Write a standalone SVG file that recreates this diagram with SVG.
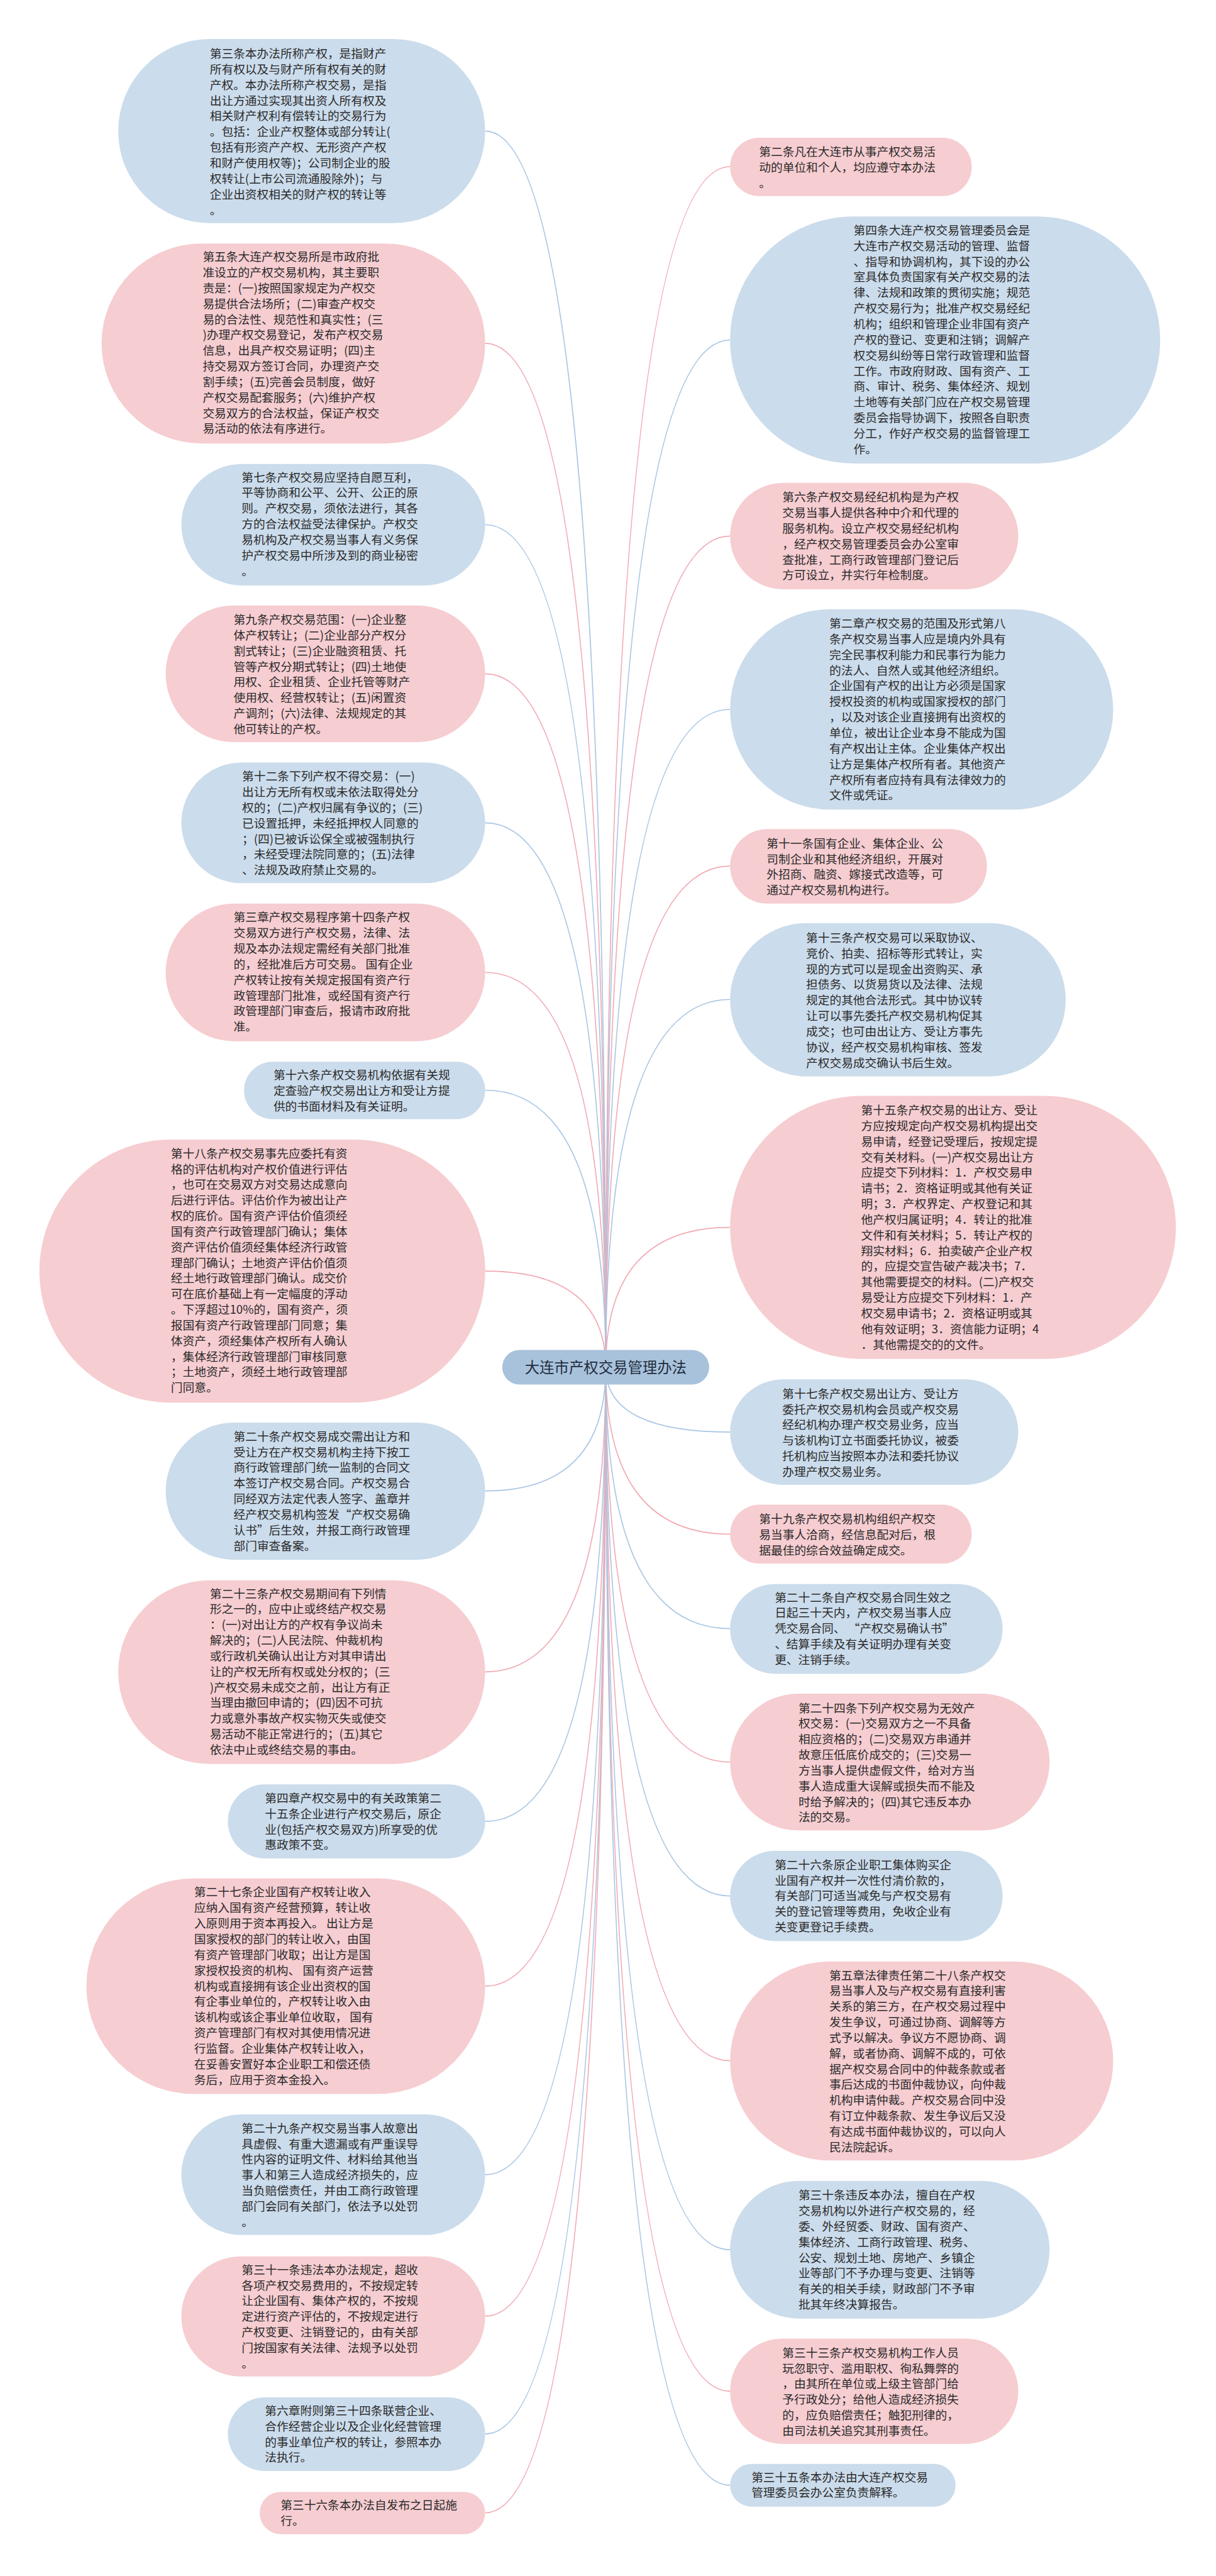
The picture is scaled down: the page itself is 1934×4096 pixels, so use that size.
<svg xmlns="http://www.w3.org/2000/svg" width="1934" height="4096" viewBox="0 0 1934 4096">
<style>
.t{font-family:"Noto Sans CJK SC","Noto Sans",sans-serif;font-size:24.8px;fill:#2b2b2b}
.pk{fill:#f6cdd1}
.bl{fill:#cbdcec}
.cp{fill:none;stroke:#f0aab3;stroke-width:2.2}
.cb{fill:none;stroke:#a8c6e3;stroke-width:2.2}
.ct{font-family:"Noto Sans CJK SC","Noto Sans",sans-serif;font-size:31px;fill:#1f2d3d}
</style>
<rect width="1934" height="4096" fill="#ffffff"/>
<g transform="scale(0.755)">
<g id="connectors">
<path class="cb" d="M1276 2880 Q1276 276 1022 276"/>
<path class="cp" d="M1276 2880 Q1276 723 1022 723"/>
<path class="cb" d="M1276 2880 Q1276 1105 1022 1105"/>
<path class="cp" d="M1276 2880 Q1276 1419 1022 1419"/>
<path class="cb" d="M1276 2880 Q1276 1733 1022 1733"/>
<path class="cp" d="M1276 2880 Q1276 2048 1022 2048"/>
<path class="cb" d="M1276 2880 Q1276 2296 1022 2296"/>
<path class="cp" d="M1276 2880 Q1276 2677 1022 2677"/>
<path class="cb" d="M1276 2880 Q1276 3140 1022 3140"/>
<path class="cp" d="M1276 2880 Q1276 3521 1022 3521"/>
<path class="cb" d="M1276 2880 Q1276 3836 1022 3836"/>
<path class="cp" d="M1276 2880 Q1276 4183 1022 4183"/>
<path class="cb" d="M1276 2880 Q1276 4580 1022 4580"/>
<path class="cp" d="M1276 2880 Q1276 4878 1022 4878"/>
<path class="cb" d="M1276 2880 Q1276 5126 1022 5126"/>
<path class="cp" d="M1276 2880 Q1276 5292 1022 5292"/>
<path class="cp" d="M1276 2880 Q1276 351 1538 351"/>
<path class="cb" d="M1276 2880 Q1276 716 1538 716"/>
<path class="cp" d="M1276 2880 Q1276 1129 1538 1129"/>
<path class="cb" d="M1276 2880 Q1276 1494 1538 1494"/>
<path class="cp" d="M1276 2880 Q1276 1824 1538 1824"/>
<path class="cb" d="M1276 2880 Q1276 2105 1538 2105"/>
<path class="cp" d="M1276 2880 Q1276 2585 1538 2585"/>
<path class="cb" d="M1276 2880 Q1276 3016 1538 3016"/>
<path class="cp" d="M1276 2880 Q1276 3231 1538 3231"/>
<path class="cb" d="M1276 2880 Q1276 3430 1538 3430"/>
<path class="cp" d="M1276 2880 Q1276 3711 1538 3711"/>
<path class="cb" d="M1276 2880 Q1276 3993 1538 3993"/>
<path class="cp" d="M1276 2880 Q1276 4340 1538 4340"/>
<path class="cb" d="M1276 2880 Q1276 4738 1538 4738"/>
<path class="cp" d="M1276 2880 Q1276 5036 1538 5036"/>
<path class="cb" d="M1276 2880 Q1276 5234 1538 5234"/>
</g>

<g id="center">
<rect x="1058" y="2843" width="436" height="73" rx="36.5" fill="#a9c2dc"/>
<text class="ct" x="1276" y="2891" text-anchor="middle">大连市产权交易管理办法</text>
</g>

<g id="n3"><rect class="bl" x="249" y="82" width="773" height="388" rx="194"/>
<text class="t"><tspan x="442" y="122">第三条本办法所称产权，是指财产</tspan><tspan x="442" y="154.9">所有权以及与财产所有权有关的财</tspan><tspan x="442" y="187.8">产权。本办法所称产权交易，是指</tspan><tspan x="442" y="220.7">出让方通过实现其出资人所有权及</tspan><tspan x="442" y="253.6">相关财产权利有偿转让的交易行为</tspan><tspan x="442" y="286.5">。包括：企业产权整体或部分转让(</tspan><tspan x="442" y="319.4">包括有形资产产权、无形资产产权</tspan><tspan x="442" y="352.3">和财产使用权等)；公司制企业的股</tspan><tspan x="442" y="385.2">权转让(上市公司流通股除外)；与</tspan><tspan x="442" y="418.1">企业出资权相关的财产权的转让等</tspan><tspan x="442" y="451">。</tspan></text></g>

<g id="n5"><rect class="pk" x="214" y="513" width="808" height="421" rx="210.5"/>
<text class="t"><tspan x="427" y="550">第五条大连产权交易所是市政府批</tspan><tspan x="427" y="582.9">准设立的产权交易机构，其主要职</tspan><tspan x="427" y="615.8">责是：(一)按照国家规定为产权交</tspan><tspan x="427" y="648.7">易提供合法场所；(二)审查产权交</tspan><tspan x="427" y="681.6">易的合法性、规范性和真实性；(三</tspan><tspan x="427" y="714.5">)办理产权交易登记，发布产权交易</tspan><tspan x="427" y="747.4">信息，出具产权交易证明；(四)主</tspan><tspan x="427" y="780.3">持交易双方签订合同，办理资产交</tspan><tspan x="427" y="813.2">割手续；(五)完善会员制度，做好</tspan><tspan x="427" y="846.1">产权交易配套服务；(六)维护产权</tspan><tspan x="427" y="879">交易双方的合法权益，保证产权交</tspan><tspan x="427" y="911.9">易活动的依法有序进行。</tspan></text></g>

<g id="n7"><rect class="bl" x="382" y="977" width="640" height="256" rx="128"/>
<text class="t"><tspan x="509" y="1014">第七条产权交易应坚持自愿互利，</tspan><tspan x="509" y="1046.9">平等协商和公平、公开、公正的原</tspan><tspan x="509" y="1079.8">则。产权交易，须依法进行，其各</tspan><tspan x="509" y="1112.7">方的合法权益受法律保护。产权交</tspan><tspan x="509" y="1145.6">易机构及产权交易当事人有义务保</tspan><tspan x="509" y="1178.5">护产权交易中所涉及到的商业秘密</tspan><tspan x="509" y="1211.4">。</tspan></text></g>

<g id="n9"><rect class="pk" x="349" y="1275" width="673" height="288" rx="144"/>
<text class="t"><tspan x="492" y="1314">第九条产权交易范围：(一)企业整</tspan><tspan x="492" y="1346.9">体产权转让；(二)企业部分产权分</tspan><tspan x="492" y="1379.8">割式转让；(三)企业融资租赁、托</tspan><tspan x="492" y="1412.7">管等产权分期式转让；(四)土地使</tspan><tspan x="492" y="1445.6">用权、企业租赁、企业托管等财产</tspan><tspan x="492" y="1478.5">使用权、经营权转让；(五)闲置资</tspan><tspan x="492" y="1511.4">产调剂；(六)法律、法规规定的其</tspan><tspan x="492" y="1544.3">他可转让的产权。</tspan></text></g>

<g id="n12"><rect class="bl" x="382" y="1606" width="640" height="254" rx="127"/>
<text class="t"><tspan x="510" y="1644">第十二条下列产权不得交易：(一)</tspan><tspan x="510" y="1676.9">出让方无所有权或未依法取得处分</tspan><tspan x="510" y="1709.8">权的；(二)产权归属有争议的；(三)</tspan><tspan x="510" y="1742.7">已设置抵押，未经抵押权人同意的</tspan><tspan x="510" y="1775.6">；(四)已被诉讼保全或被强制执行</tspan><tspan x="510" y="1808.5">，未经受理法院同意的；(五)法律</tspan><tspan x="510" y="1841.4">、法规及政府禁止交易的。</tspan></text></g>

<g id="n14"><rect class="pk" x="349" y="1903" width="673" height="290" rx="145"/>
<text class="t"><tspan x="492" y="1941">第三章产权交易程序第十四条产权</tspan><tspan x="492" y="1973.9">交易双方进行产权交易，法律、法</tspan><tspan x="492" y="2006.8">规及本办法规定需经有关部门批准</tspan><tspan x="492" y="2039.7">的，经批准后方可交易。 国有企业</tspan><tspan x="492" y="2072.6">产权转让按有关规定报国有资产行</tspan><tspan x="492" y="2105.5">政管理部门批准，或经国有资产行</tspan><tspan x="492" y="2138.4">政管理部门审查后，报请市政府批</tspan><tspan x="492" y="2171.3">准。</tspan></text></g>

<g id="n16"><rect class="bl" x="514" y="2236" width="508" height="121" rx="60.5"/>
<text class="t"><tspan x="576" y="2273">第十六条产权交易机构依据有关规</tspan><tspan x="576" y="2305.9">定查验产权交易出让方和受让方提</tspan><tspan x="576" y="2338.8">供的书面材料及有关证明。</tspan></text></g>

<g id="n18"><rect class="pk" x="83" y="2400" width="939" height="554" rx="277"/>
<text class="t"><tspan x="360" y="2438">第十八条产权交易事先应委托有资</tspan><tspan x="360" y="2470.9">格的评估机构对产权价值进行评估</tspan><tspan x="360" y="2503.8">，也可在交易双方对交易达成意向</tspan><tspan x="360" y="2536.7">后进行评估。评估价作为被出让产</tspan><tspan x="360" y="2569.6">权的底价。国有资产评估价值须经</tspan><tspan x="360" y="2602.5">国有资产行政管理部门确认；集体</tspan><tspan x="360" y="2635.4">资产评估价值须经集体经济行政管</tspan><tspan x="360" y="2668.3">理部门确认；土地资产评估价值须</tspan><tspan x="360" y="2701.2">经土地行政管理部门确认。成交价</tspan><tspan x="360" y="2734.1">可在底价基础上有一定幅度的浮动</tspan><tspan x="360" y="2767">。下浮超过10%的，国有资产，须</tspan><tspan x="360" y="2799.9">报国有资产行政管理部门同意；集</tspan><tspan x="360" y="2832.8">体资产，须经集体产权所有人确认</tspan><tspan x="360" y="2865.7">，集体经济行政管理部门审核同意</tspan><tspan x="360" y="2898.6">；土地资产，须经土地行政管理部</tspan><tspan x="360" y="2931.5">门同意。</tspan></text></g>

<g id="n20"><rect class="bl" x="349" y="2996" width="673" height="289" rx="144.5"/>
<text class="t"><tspan x="492" y="3034">第二十条产权交易成交需出让方和</tspan><tspan x="492" y="3066.9">受让方在产权交易机构主持下按工</tspan><tspan x="492" y="3099.8">商行政管理部门统一监制的合同文</tspan><tspan x="492" y="3132.7">本签订产权交易合同。产权交易合</tspan><tspan x="492" y="3165.6">同经双方法定代表人签字、盖章并</tspan><tspan x="492" y="3198.5">经产权交易机构签发“产权交易确</tspan><tspan x="492" y="3231.4">认书”后生效，并报工商行政管理</tspan><tspan x="492" y="3264.3">部门审查备案。</tspan></text></g>

<g id="n23"><rect class="pk" x="249" y="3328" width="773" height="387" rx="193.5"/>
<text class="t"><tspan x="442" y="3365">第二十三条产权交易期间有下列情</tspan><tspan x="442" y="3397.9">形之一的，应中止或终结产权交易</tspan><tspan x="442" y="3430.8">：(一)对出让方的产权有争议尚未</tspan><tspan x="442" y="3463.7">解决的；(二)人民法院、仲裁机构</tspan><tspan x="442" y="3496.6">或行政机关确认出让方对其申请出</tspan><tspan x="442" y="3529.5">让的产权无所有权或处分权的；(三</tspan><tspan x="442" y="3562.4">)产权交易未成交之前，出让方有正</tspan><tspan x="442" y="3595.3">当理由撤回申请的；(四)因不可抗</tspan><tspan x="442" y="3628.2">力或意外事故产权实物灭失或使交</tspan><tspan x="442" y="3661.1">易活动不能正常进行的；(五)其它</tspan><tspan x="442" y="3694">依法中止或终结交易的事由。</tspan></text></g>

<g id="n25"><rect class="bl" x="480" y="3758" width="542" height="156" rx="78"/>
<text class="t"><tspan x="558" y="3796">第四章产权交易中的有关政策第二</tspan><tspan x="558" y="3828.9">十五条企业进行产权交易后，原企</tspan><tspan x="558" y="3861.8">业(包括产权交易双方)所享受的优</tspan><tspan x="558" y="3894.7">惠政策不变。</tspan></text></g>

<g id="n27"><rect class="pk" x="182" y="3956" width="840" height="454" rx="227"/>
<text class="t"><tspan x="409" y="3994">第二十七条企业国有产权转让收入</tspan><tspan x="409" y="4026.9">应纳入国有资产经营预算，转让收</tspan><tspan x="409" y="4059.8">入原则用于资本再投入。 出让方是</tspan><tspan x="409" y="4092.7">国家授权的部门的转让收入，由国</tspan><tspan x="409" y="4125.6">有资产管理部门收取；出让方是国</tspan><tspan x="409" y="4158.5">家授权投资的机构、 国有资产运营</tspan><tspan x="409" y="4191.4">机构或直接拥有该企业出资权的国</tspan><tspan x="409" y="4224.3">有企事业单位的，产权转让收入由</tspan><tspan x="409" y="4257.2">该机构或该企事业单位收取， 国有</tspan><tspan x="409" y="4290.1">资产管理部门有权对其使用情况进</tspan><tspan x="409" y="4323">行监督。企业集体产权转让收入，</tspan><tspan x="409" y="4355.9">在妥善安置好本企业职工和偿还债</tspan><tspan x="409" y="4388.8">务后，应用于资本金投入。</tspan></text></g>

<g id="n29"><rect class="bl" x="382" y="4453" width="640" height="254" rx="127"/>
<text class="t"><tspan x="509" y="4491">第二十九条产权交易当事人故意出</tspan><tspan x="509" y="4523.9">具虚假、有重大遗漏或有严重误导</tspan><tspan x="509" y="4556.8">性内容的证明文件、材料给其他当</tspan><tspan x="509" y="4589.7">事人和第三人造成经济损失的，应</tspan><tspan x="509" y="4622.6">当负赔偿责任，并由工商行政管理</tspan><tspan x="509" y="4655.5">部门会同有关部门，依法予以处罚</tspan><tspan x="509" y="4688.4">。</tspan></text></g>

<g id="n31"><rect class="pk" x="382" y="4752" width="640" height="253" rx="126.5"/>
<text class="t"><tspan x="509" y="4789">第三十一条违法本办法规定，超收</tspan><tspan x="509" y="4821.9">各项产权交易费用的，不按规定转</tspan><tspan x="509" y="4854.8">让企业国有、集体产权的，不按规</tspan><tspan x="509" y="4887.7">定进行资产评估的，不按规定进行</tspan><tspan x="509" y="4920.6">产权变更、注销登记的，由有关部</tspan><tspan x="509" y="4953.5">门按国家有关法律、法规予以处罚</tspan><tspan x="509" y="4986.4">。</tspan></text></g>

<g id="n34"><rect class="bl" x="480" y="5049" width="542" height="155" rx="77.5"/>
<text class="t"><tspan x="558" y="5086">第六章附则第三十四条联营企业、</tspan><tspan x="558" y="5118.9">合作经营企业以及企业化经营管理</tspan><tspan x="558" y="5151.8">的事业单位产权的转让，参照本办</tspan><tspan x="558" y="5184.7">法执行。</tspan></text></g>

<g id="n36"><rect class="pk" x="547" y="5248" width="475" height="89" rx="44.5"/>
<text class="t"><tspan x="591" y="5285">第三十六条本办法自发布之日起施</tspan><tspan x="591" y="5317.9">行。</tspan></text></g>

<g id="n2"><rect class="pk" x="1538" y="290" width="509" height="123" rx="61.5"/>
<text class="t"><tspan x="1599" y="329">第二条凡在大连市从事产权交易活</tspan><tspan x="1599" y="361.9">动的单位和个人，均应遵守本办法</tspan><tspan x="1599" y="394.8">。</tspan></text></g>

<g id="n4"><rect class="bl" x="1538" y="456" width="906" height="520" rx="260"/>
<text class="t"><tspan x="1798" y="494">第四条大连产权交易管理委员会是</tspan><tspan x="1798" y="526.9">大连市产权交易活动的管理、监督</tspan><tspan x="1798" y="559.8">、指导和协调机构，其下设的办公</tspan><tspan x="1798" y="592.7">室具体负责国家有关产权交易的法</tspan><tspan x="1798" y="625.6">律、法规和政策的贯彻实施；规范</tspan><tspan x="1798" y="658.5">产权交易行为；批准产权交易经纪</tspan><tspan x="1798" y="691.4">机构；组织和管理企业非国有资产</tspan><tspan x="1798" y="724.3">产权的登记、变更和注销；调解产</tspan><tspan x="1798" y="757.2">权交易纠纷等日常行政管理和监督</tspan><tspan x="1798" y="790.1">工作。市政府财政、国有资产、工</tspan><tspan x="1798" y="823">商、审计、税务、集体经济、规划</tspan><tspan x="1798" y="855.9">土地等有关部门应在产权交易管理</tspan><tspan x="1798" y="888.8">委员会指导协调下，按照各自职责</tspan><tspan x="1798" y="921.7">分工，作好产权交易的监督管理工</tspan><tspan x="1798" y="954.6">作。</tspan></text></g>

<g id="n6"><rect class="pk" x="1538" y="1017" width="607" height="224" rx="112"/>
<text class="t"><tspan x="1648" y="1056">第六条产权交易经纪机构是为产权</tspan><tspan x="1648" y="1088.9">交易当事人提供各种中介和代理的</tspan><tspan x="1648" y="1121.8">服务机构。设立产权交易经纪机构</tspan><tspan x="1648" y="1154.7">，经产权交易管理委员会办公室审</tspan><tspan x="1648" y="1187.6">查批准，工商行政管理部门登记后</tspan><tspan x="1648" y="1220.5">方可设立，并实行年检制度。</tspan></text></g>

<g id="n8"><rect class="bl" x="1538" y="1283" width="807" height="422" rx="211"/>
<text class="t"><tspan x="1747" y="1322">第二章产权交易的范围及形式第八</tspan><tspan x="1747" y="1354.9">条产权交易当事人应是境内外具有</tspan><tspan x="1747" y="1387.8">完全民事权利能力和民事行为能力</tspan><tspan x="1747" y="1420.7">的法人、自然人或其他经济组织。</tspan><tspan x="1747" y="1453.6">企业国有产权的出让方必须是国家</tspan><tspan x="1747" y="1486.5">授权投资的机构或国家授权的部门</tspan><tspan x="1747" y="1519.4">，以及对该企业直接拥有出资权的</tspan><tspan x="1747" y="1552.3">单位，被出让企业本身不能成为国</tspan><tspan x="1747" y="1585.2">有产权出让主体。企业集体产权出</tspan><tspan x="1747" y="1618.1">让方是集体产权所有者。其他资产</tspan><tspan x="1747" y="1651">产权所有者应持有具有法律效力的</tspan><tspan x="1747" y="1683.9">文件或凭证。</tspan></text></g>

<g id="n11"><rect class="pk" x="1538" y="1746" width="541" height="157" rx="78.5"/>
<text class="t"><tspan x="1615" y="1785">第十一条国有企业、集体企业、公</tspan><tspan x="1615" y="1817.9">司制企业和其他经济组织，开展对</tspan><tspan x="1615" y="1850.8">外招商、融资、嫁接式改造等，可</tspan><tspan x="1615" y="1883.7">通过产权交易机构进行。</tspan></text></g>

<g id="n13"><rect class="bl" x="1538" y="1944" width="707" height="323" rx="161.5"/>
<text class="t"><tspan x="1698" y="1984">第十三条产权交易可以采取协议、</tspan><tspan x="1698" y="2016.9">竞价、拍卖、招标等形式转让，实</tspan><tspan x="1698" y="2049.8">现的方式可以是现金出资购买、承</tspan><tspan x="1698" y="2082.7">担债务、以货易货以及法律、法规</tspan><tspan x="1698" y="2115.6">规定的其他合法形式。其中协议转</tspan><tspan x="1698" y="2148.5">让可以事先委托产权交易机构促其</tspan><tspan x="1698" y="2181.4">成交；也可由出让方、受让方事先</tspan><tspan x="1698" y="2214.3">协议，经产权交易机构审核、签发</tspan><tspan x="1698" y="2247.2">产权交易成交确认书后生效。</tspan></text></g>

<g id="n15"><rect class="pk" x="1538" y="2308" width="939" height="554" rx="277"/>
<text class="t"><tspan x="1814" y="2347">第十五条产权交易的出让方、受让</tspan><tspan x="1814" y="2379.9">方应按规定向产权交易机构提出交</tspan><tspan x="1814" y="2412.8">易申请，经登记受理后，按规定提</tspan><tspan x="1814" y="2445.7">交有关材料。(一)产权交易出让方</tspan><tspan x="1814" y="2478.6">应提交下列材料：1．产权交易申</tspan><tspan x="1814" y="2511.5">请书；2．资格证明或其他有关证</tspan><tspan x="1814" y="2544.4">明；3．产权界定、产权登记和其</tspan><tspan x="1814" y="2577.3">他产权归属证明；4．转让的批准</tspan><tspan x="1814" y="2610.2">文件和有关材料；5．转让产权的</tspan><tspan x="1814" y="2643.1">翔实材料；6．拍卖破产企业产权</tspan><tspan x="1814" y="2676">的，应提交宣告破产裁决书；7．</tspan><tspan x="1814" y="2708.9">其他需要提交的材料。(二)产权交</tspan><tspan x="1814" y="2741.8">易受让方应提交下列材料：1．产</tspan><tspan x="1814" y="2774.7">权交易申请书；2．资格证明或其</tspan><tspan x="1814" y="2807.6">他有效证明；3．资信能力证明；4</tspan><tspan x="1814" y="2840.5">．其他需提交的的文件。</tspan></text></g>

<g id="n17"><rect class="bl" x="1538" y="2905" width="607" height="222" rx="111"/>
<text class="t"><tspan x="1648" y="2944">第十七条产权交易出让方、受让方</tspan><tspan x="1648" y="2976.9">委托产权交易机构会员或产权交易</tspan><tspan x="1648" y="3009.8">经纪机构办理产权交易业务，应当</tspan><tspan x="1648" y="3042.7">与该机构订立书面委托协议，被委</tspan><tspan x="1648" y="3075.6">托机构应当按照本办法和委托协议</tspan><tspan x="1648" y="3108.5">办理产权交易业务。</tspan></text></g>

<g id="n19"><rect class="pk" x="1538" y="3169" width="509" height="124" rx="62"/>
<text class="t"><tspan x="1599" y="3208">第十九条产权交易机构组织产权交</tspan><tspan x="1599" y="3240.9">易当事人洽商，经信息配对后，根</tspan><tspan x="1599" y="3273.8">据最佳的综合效益确定成交。</tspan></text></g>

<g id="n22"><rect class="bl" x="1538" y="3336" width="574" height="189" rx="94.5"/>
<text class="t"><tspan x="1632" y="3373">第二十二条自产权交易合同生效之</tspan><tspan x="1632" y="3405.9">日起三十天内，产权交易当事人应</tspan><tspan x="1632" y="3438.8">凭交易合同、 “产权交易确认书”</tspan><tspan x="1632" y="3471.7">、结算手续及有关证明办理有关变</tspan><tspan x="1632" y="3504.6">更、注销手续。</tspan></text></g>

<g id="n24"><rect class="pk" x="1538" y="3567" width="673" height="288" rx="144"/>
<text class="t"><tspan x="1682" y="3606">第二十四条下列产权交易为无效产</tspan><tspan x="1682" y="3638.9">权交易：(一)交易双方之一不具备</tspan><tspan x="1682" y="3671.8">相应资格的；(二)交易双方串通并</tspan><tspan x="1682" y="3704.7">故意压低底价成交的；(三)交易一</tspan><tspan x="1682" y="3737.6">方当事人提供虚假文件，给对方当</tspan><tspan x="1682" y="3770.5">事人造成重大误解或损失而不能及</tspan><tspan x="1682" y="3803.4">时给予解决的；(四)其它违反本办</tspan><tspan x="1682" y="3836.3">法的交易。</tspan></text></g>

<g id="n26"><rect class="bl" x="1538" y="3898" width="574" height="190" rx="95"/>
<text class="t"><tspan x="1632" y="3936">第二十六条原企业职工集体购买企</tspan><tspan x="1632" y="3968.9">业国有产权并一次性付清价款的，</tspan><tspan x="1632" y="4001.8">有关部门可适当减免与产权交易有</tspan><tspan x="1632" y="4034.7">关的登记管理等费用，免收企业有</tspan><tspan x="1632" y="4067.6">关变更登记手续费。</tspan></text></g>

<g id="n28"><rect class="pk" x="1538" y="4131" width="807" height="419" rx="209.5"/>
<text class="t"><tspan x="1747" y="4169">第五章法律责任第二十八条产权交</tspan><tspan x="1747" y="4201.9">易当事人及与产权交易有直接利害</tspan><tspan x="1747" y="4234.8">关系的第三方，在产权交易过程中</tspan><tspan x="1747" y="4267.7">发生争议，可通过协商、调解等方</tspan><tspan x="1747" y="4300.6">式予以解决。争议方不愿协商、调</tspan><tspan x="1747" y="4333.5">解，或者协商、调解不成的，可依</tspan><tspan x="1747" y="4366.4">据产权交易合同中的仲裁条款或者</tspan><tspan x="1747" y="4399.3">事后达成的书面仲裁协议，向仲裁</tspan><tspan x="1747" y="4432.2">机构申请仲裁。产权交易合同中没</tspan><tspan x="1747" y="4465.1">有订立仲裁条款、发生争议后又没</tspan><tspan x="1747" y="4498">有达成书面仲裁协议的，可以向人</tspan><tspan x="1747" y="4530.9">民法院起诉。</tspan></text></g>

<g id="n30"><rect class="bl" x="1538" y="4593" width="673" height="290" rx="145"/>
<text class="t"><tspan x="1682" y="4632">第三十条违反本办法，擅自在产权</tspan><tspan x="1682" y="4664.9">交易机构以外进行产权交易的，经</tspan><tspan x="1682" y="4697.8">委、外经贸委、财政、国有资产、</tspan><tspan x="1682" y="4730.7">集体经济、工商行政管理、税务、</tspan><tspan x="1682" y="4763.6">公安、规划土地、房地产、乡镇企</tspan><tspan x="1682" y="4796.5">业等部门不予办理与变更、注销等</tspan><tspan x="1682" y="4829.4">有关的相关手续，财政部门不予审</tspan><tspan x="1682" y="4862.3">批其年终决算报告。</tspan></text></g>

<g id="n33"><rect class="pk" x="1538" y="4925" width="607" height="222" rx="111"/>
<text class="t"><tspan x="1648" y="4964">第三十三条产权交易机构工作人员</tspan><tspan x="1648" y="4996.9">玩忽职守、滥用职权、徇私舞弊的</tspan><tspan x="1648" y="5029.8">，由其所在单位或上级主管部门给</tspan><tspan x="1648" y="5062.7">予行政处分；给他人造成经济损失</tspan><tspan x="1648" y="5095.6">的，应负赔偿责任；触犯刑律的，</tspan><tspan x="1648" y="5128.5">由司法机关追究其刑事责任。</tspan></text></g>

<g id="n35"><rect class="bl" x="1538" y="5189" width="475" height="90" rx="45"/>
<text class="t"><tspan x="1583" y="5226">第三十五条本办法由大连产权交易</tspan><tspan x="1583" y="5258.9">管理委员会办公室负责解释。</tspan></text></g>
</g>
</svg>
